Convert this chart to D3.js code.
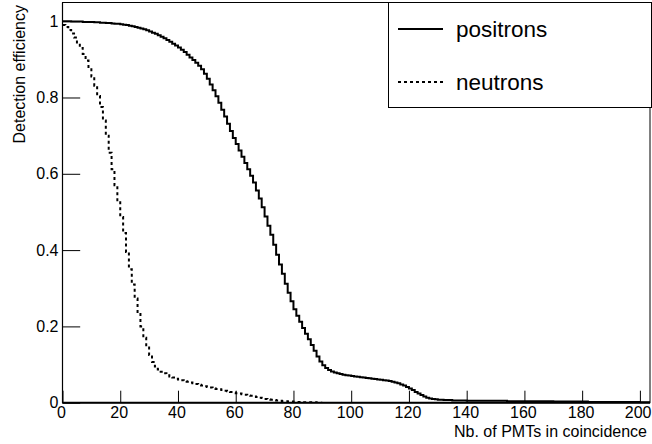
<!DOCTYPE html>
<html><head><meta charset="utf-8">
<script src="https://cdn.jsdelivr.net/npm/d3@7"></script>
<style>
body{margin:0;background:#fff}
svg{display:block}
text{font-family:"Liberation Sans",Arial,Helvetica,sans-serif;fill:#000}
</style>
</head><body>
<svg id="c" width="652" height="444"></svg>
<script>
// bin i covers [i, i+1)
const positrons = [
1.000,1.000,1.000,0.999,0.999,0.999,0.999,0.998,0.998,0.998,
0.998,0.997,0.997,0.996,0.996,0.995,0.995,0.994,0.993,0.993,
0.992,0.991,0.990,0.988,0.987,0.985,0.983,0.981,0.979,0.976,
0.973,0.970,0.967,0.963,0.959,0.955,0.951,0.946,0.941,0.936,
0.931,0.925,0.919,0.912,0.905,0.898,0.891,0.883,0.874,0.862,
0.849,0.834,0.819,0.803,0.786,0.768,0.750,0.731,0.712,0.694,
0.678,0.661,0.645,0.628,0.612,0.595,0.577,0.556,0.535,0.512,
0.488,0.464,0.440,0.414,0.388,0.362,0.338,0.312,0.288,0.266,
0.245,0.228,0.212,0.196,0.181,0.166,0.151,0.136,0.121,0.108,
0.098,0.091,0.086,0.082,0.079,0.077,0.075,0.073,0.072,0.071,
0.070,0.069,0.068,0.067,0.066,0.065,0.064,0.063,0.062,0.061,
0.060,0.059,0.058,0.057,0.055,0.053,0.051,0.048,0.045,0.041,
0.037,0.033,0.028,0.024,0.020,0.016,0.013,0.011,0.010,0.009,
0.008,0.008,0.007,0.007,0.007,0.006,0.006,0.006,0.006,0.006,
0.005,0.005,0.005,0.005,0.005,0.005,0.005,0.005,0.005,0.005,
0.005,0.005,0.005,0.005,0.004,0.004,0.004,0.004,0.004,0.004,
0.004,0.004,0.004,0.004,0.004,0.004,0.004,0.004,0.004,0.004,
0.003,0.003,0.003,0.003,0.003,0.003,0.003,0.003,0.003,0.003,
0.003,0.003,0.002,0.002,0.002,0.002,0.002,0.002,0.002,0.002,
0.002,0.002,0.002,0.002,0.002,0.002,0.002,0.002,0.002,0.002,
0.001,0.001,0.001,0.001
];
const neutrons = [
0.990,0.985,0.977,0.968,0.957,0.944,0.930,0.914,0.897,0.877,
0.855,0.831,0.804,0.775,0.740,0.700,0.655,0.612,0.570,0.528,
0.487,0.445,0.395,0.350,0.310,0.273,0.235,0.200,0.170,0.145,
0.125,0.107,0.095,0.087,0.081,0.077,0.072,0.069,0.066,0.063,
0.061,0.059,0.057,0.055,0.053,0.051,0.049,0.047,0.045,0.043,
0.041,0.040,0.038,0.036,0.035,0.033,0.031,0.030,0.028,0.027,
0.025,0.024,0.022,0.021,0.019,0.018,0.016,0.015,0.013,0.012,
0.010,0.009,0.008,0.007,0.006,0.005,0.004,0.004,0.003,0.003,
0.002,0.002,0.002,0.001,0.001,0.001,0.001,0.001,0.000,0.000
];
const xMajorTicks = [0,20,40,60,80,100,120,140,160,180,200];
const xMinorTicks = [0,5,10,15,20,25,30,35,40,45,50,55,60,65,70,75,80,85,90,95,100,105,110,115,120,125,130,135,140,145,150,155,160,165,170,175,180,185,190,195,200];
const yMajorTicks = [0,0.2,0.4,0.6,0.8,1];
const yTickLabels = ["0","0.2","0.4","0.6","0.8","1"];
const yMinorTicks = [0,0.05,0.1,0.15,0.2,0.25,0.3,0.35,0.4,0.45,0.5,0.55,0.6,0.65,0.7,0.75,0.8,0.85,0.9,0.95,1];
const xTitle = "Nb. of PMTs in coincidence";
const yTitle = "Detection efficiency";
const legendLabels = ["positrons","neutrons"];

const svg = d3.select("#c");
const L = 62.5, R = 650, T = 2.5, B = 402.7;
const x = d3.scaleLinear().domain([0, 203.5]).range([L, R]);
const y = d3.scaleLinear().domain([0, 1.049]).range([B, T]);
const FS = 16;

svg.append("clipPath").attr("id","clip").append("rect")
  .attr("x", L).attr("y", T - 1).attr("width", R - L).attr("height", B - T + 1);

// frame
svg.append("rect").attr("x", L).attr("y", T).attr("width", R - L).attr("height", B - T)
  .attr("fill","none").attr("stroke","#000").attr("stroke-width",1);

// x axis
const gx = svg.append("g").attr("transform", `translate(0,${B})`);
gx.call(d3.axisBottom(x).tickValues(xMinorTicks).tickSize(-6).tickFormat(""));
gx.call(d3.axisBottom(x).tickValues(xMajorTicks).tickSize(-12).tickPadding(4).tickFormat(d3.format("d")));
gx.selectAll(".domain").remove();
gx.selectAll("line").attr("stroke","#000");
gx.selectAll("text").attr("font-size", FS).attr("font-family", null).attr("dx", -1.5);
// keep the last label inside the picture
gx.selectAll(".tick").filter(d => d === 200).select("text")
  .attr("text-anchor","end").attr("dx", null).attr("x", 651 - x(200));

// y axis
const gy = svg.append("g").attr("transform", `translate(${L},0)`);
gy.call(d3.axisLeft(y).tickValues(yMinorTicks).tickSize(-9).tickFormat(""));
gy.call(d3.axisLeft(y).tickValues(yMajorTicks).tickSize(-17.7).tickPadding(4)
  .tickFormat((d,i) => yTickLabels[i]));
gy.selectAll(".domain").remove();
gy.selectAll("line").attr("stroke","#000");
gy.selectAll("text").attr("font-size", FS).attr("font-family", null);

// axis lines
svg.append("line").attr("x1", L).attr("x2", L).attr("y1", T).attr("y2", B).attr("stroke","#000").attr("stroke-width",1.2);
svg.append("line").attr("x1", L).attr("x2", R).attr("y1", B).attr("y2", B).attr("stroke","#000").attr("stroke-width",2);

// histograms
const line = d3.line().x(d => x(d[0])).y(d => y(d[1])).curve(d3.curveStepAfter);
function pts(arr){ const p = arr.map((v,i)=>[i,v]); p.push([arr.length, arr[arr.length-1]]); return p; }
const gp = svg.append("g").attr("clip-path","url(#clip)");
gp.append("path").attr("d", line(pts(positrons))).attr("fill","none").attr("stroke","#000").attr("stroke-width",2);
gp.append("path").attr("d", line(pts(neutrons))).attr("fill","none").attr("stroke","#000").attr("stroke-width",2)
  .attr("stroke-dasharray","3,3");

// axis titles
svg.append("text").attr("x", 647).attr("y", 437).attr("text-anchor","end").attr("font-size", FS).text(xTitle);
svg.append("text").attr("transform","translate(24.5,5) rotate(-90)").attr("text-anchor","end").attr("font-size", FS).text(yTitle);

// legend
const lg = svg.append("g");
lg.append("rect").attr("x", 388.5).attr("y", 2.5).attr("width", 263).attr("height", 105)
  .attr("fill","#fff").attr("stroke","#000").attr("stroke-width",1);
const rows = [29, 82];
legendLabels.forEach((lab, i) => {
  const l = lg.append("line").attr("x1", 398).attr("x2", 443).attr("y1", rows[i]).attr("y2", rows[i])
    .attr("stroke","#000").attr("stroke-width",2);
  if (i === 1) l.attr("stroke-dasharray","3,3");
  lg.append("text").attr("x", 456).attr("y", rows[i]).attr("dy","0.35em").attr("font-size", 22.5).text(lab);
});
</script>
</body></html>
